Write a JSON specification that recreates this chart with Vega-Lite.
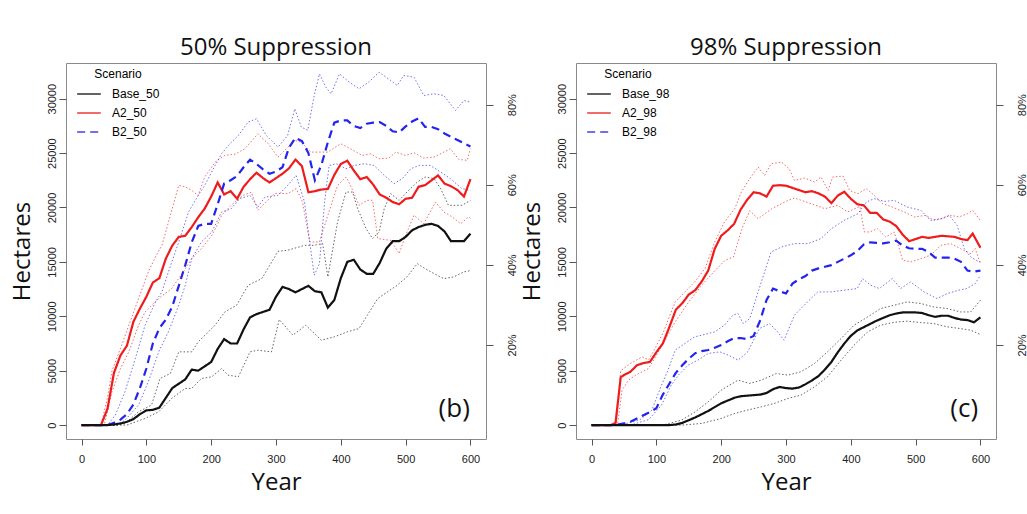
{
"$schema": "https://vega.github.io/schema/vega-lite/v6.json",
"autosize": {"type": "pad"},
"padding": {"left": 9, "top": 35, "right": 0, "bottom": 0},
"background": "white",
"bounds": "flush",
"spacing": 90,
"datasets": {
"p50": [
{"s":"A2_50","k":"m","x":0,"y":0},{"s":"A2_50","k":"m","x":10,"y":0},{"s":"A2_50","k":"m","x":20,"y":0},{"s":"A2_50","k":"m","x":30,"y":0},{"s":"A2_50","k":"m","x":40,"y":1500},{"s":"A2_50","k":"m","x":50,"y":4800},{"s":"A2_50","k":"m","x":60,"y":6400},{"s":"A2_50","k":"m","x":70,"y":7300},{"s":"A2_50","k":"m","x":80,"y":9500},{"s":"A2_50","k":"m","x":90,"y":10700},{"s":"A2_50","k":"m","x":100,"y":11800},{"s":"A2_50","k":"m","x":110,"y":13100},{"s":"A2_50","k":"m","x":120,"y":13500},{"s":"A2_50","k":"m","x":130,"y":15300},{"s":"A2_50","k":"m","x":140,"y":16500},{"s":"A2_50","k":"m","x":150,"y":17300},{"s":"A2_50","k":"m","x":160,"y":17400},{"s":"A2_50","k":"m","x":170,"y":18200},{"s":"A2_50","k":"m","x":180,"y":19100},{"s":"A2_50","k":"m","x":190,"y":19900},{"s":"A2_50","k":"m","x":200,"y":21000},{"s":"A2_50","k":"m","x":210,"y":22300},{"s":"A2_50","k":"m","x":220,"y":21200},{"s":"A2_50","k":"m","x":230,"y":21500},{"s":"A2_50","k":"m","x":240,"y":20800},{"s":"A2_50","k":"m","x":250,"y":21900},{"s":"A2_50","k":"m","x":260,"y":22600},{"s":"A2_50","k":"m","x":270,"y":23200},{"s":"A2_50","k":"m","x":280,"y":22700},{"s":"A2_50","k":"m","x":290,"y":22300},{"s":"A2_50","k":"m","x":300,"y":22700},{"s":"A2_50","k":"m","x":310,"y":23100},{"s":"A2_50","k":"m","x":320,"y":23600},{"s":"A2_50","k":"m","x":330,"y":24400},{"s":"A2_50","k":"m","x":340,"y":23800},{"s":"A2_50","k":"m","x":350,"y":21400},{"s":"A2_50","k":"m","x":360,"y":21500},{"s":"A2_50","k":"m","x":370,"y":21650},{"s":"A2_50","k":"m","x":380,"y":21700},{"s":"A2_50","k":"m","x":390,"y":23000},{"s":"A2_50","k":"m","x":400,"y":24000},{"s":"A2_50","k":"m","x":410,"y":24300},{"s":"A2_50","k":"m","x":420,"y":23400},{"s":"A2_50","k":"m","x":430,"y":22600},{"s":"A2_50","k":"m","x":440,"y":22800},{"s":"A2_50","k":"m","x":450,"y":22100},{"s":"A2_50","k":"m","x":460,"y":21200},{"s":"A2_50","k":"m","x":470,"y":20900},{"s":"A2_50","k":"m","x":480,"y":20500},{"s":"A2_50","k":"m","x":490,"y":20300},{"s":"A2_50","k":"m","x":500,"y":20800},{"s":"A2_50","k":"m","x":510,"y":20900},{"s":"A2_50","k":"m","x":520,"y":21900},{"s":"A2_50","k":"m","x":530,"y":22050},{"s":"A2_50","k":"m","x":540,"y":22500},{"s":"A2_50","k":"m","x":550,"y":22950},{"s":"A2_50","k":"m","x":560,"y":22200},{"s":"A2_50","k":"m","x":570,"y":21950},{"s":"A2_50","k":"m","x":580,"y":21600},{"s":"A2_50","k":"m","x":590,"y":21000},{"s":"A2_50","k":"m","x":600,"y":22600},
{"s":"B2_50","k":"m","x":0,"y":0},{"s":"B2_50","k":"m","x":10,"y":0},{"s":"B2_50","k":"m","x":20,"y":0},{"s":"B2_50","k":"m","x":30,"y":0},{"s":"B2_50","k":"m","x":40,"y":0},{"s":"B2_50","k":"m","x":50,"y":200},{"s":"B2_50","k":"m","x":60,"y":500},{"s":"B2_50","k":"m","x":70,"y":1000},{"s":"B2_50","k":"m","x":80,"y":1900},{"s":"B2_50","k":"m","x":90,"y":3400},{"s":"B2_50","k":"m","x":100,"y":5200},{"s":"B2_50","k":"m","x":110,"y":7500},{"s":"B2_50","k":"m","x":120,"y":8900},{"s":"B2_50","k":"m","x":130,"y":9700},{"s":"B2_50","k":"m","x":140,"y":10900},{"s":"B2_50","k":"m","x":150,"y":12800},{"s":"B2_50","k":"m","x":160,"y":14700},{"s":"B2_50","k":"m","x":170,"y":16800},{"s":"B2_50","k":"m","x":180,"y":18300},{"s":"B2_50","k":"m","x":190,"y":18500},{"s":"B2_50","k":"m","x":200,"y":18500},{"s":"B2_50","k":"m","x":210,"y":20300},{"s":"B2_50","k":"m","x":220,"y":22200},{"s":"B2_50","k":"m","x":230,"y":22500},{"s":"B2_50","k":"m","x":240,"y":22900},{"s":"B2_50","k":"m","x":250,"y":23700},{"s":"B2_50","k":"m","x":260,"y":24400},{"s":"B2_50","k":"m","x":270,"y":24000},{"s":"B2_50","k":"m","x":280,"y":23500},{"s":"B2_50","k":"m","x":290,"y":23100},{"s":"B2_50","k":"m","x":300,"y":23300},{"s":"B2_50","k":"m","x":310,"y":23700},{"s":"B2_50","k":"m","x":320,"y":25500},{"s":"B2_50","k":"m","x":330,"y":26400},{"s":"B2_50","k":"m","x":340,"y":26100},{"s":"B2_50","k":"m","x":350,"y":25000},{"s":"B2_50","k":"m","x":360,"y":22500},{"s":"B2_50","k":"m","x":370,"y":23900},{"s":"B2_50","k":"m","x":380,"y":26000},{"s":"B2_50","k":"m","x":390,"y":27800},{"s":"B2_50","k":"m","x":400,"y":28000},{"s":"B2_50","k":"m","x":410,"y":28000},{"s":"B2_50","k":"m","x":420,"y":27500},{"s":"B2_50","k":"m","x":430,"y":27300},{"s":"B2_50","k":"m","x":440,"y":27700},{"s":"B2_50","k":"m","x":450,"y":27800},{"s":"B2_50","k":"m","x":460,"y":27850},{"s":"B2_50","k":"m","x":470,"y":27500},{"s":"B2_50","k":"m","x":480,"y":27000},{"s":"B2_50","k":"m","x":490,"y":26900},{"s":"B2_50","k":"m","x":500,"y":27450},{"s":"B2_50","k":"m","x":510,"y":27900},{"s":"B2_50","k":"m","x":520,"y":28200},{"s":"B2_50","k":"m","x":530,"y":27400},{"s":"B2_50","k":"m","x":540,"y":27400},{"s":"B2_50","k":"m","x":550,"y":27200},{"s":"B2_50","k":"m","x":560,"y":26800},{"s":"B2_50","k":"m","x":570,"y":26500},{"s":"B2_50","k":"m","x":580,"y":26200},{"s":"B2_50","k":"m","x":590,"y":25900},{"s":"B2_50","k":"m","x":600,"y":25600},
{"s":"Base_50","k":"m","x":0,"y":0},{"s":"Base_50","k":"m","x":10,"y":0},{"s":"Base_50","k":"m","x":20,"y":0},{"s":"Base_50","k":"m","x":30,"y":0},{"s":"Base_50","k":"m","x":40,"y":0},{"s":"Base_50","k":"m","x":50,"y":50},{"s":"Base_50","k":"m","x":60,"y":150},{"s":"Base_50","k":"m","x":70,"y":300},{"s":"Base_50","k":"m","x":80,"y":550},{"s":"Base_50","k":"m","x":90,"y":1000},{"s":"Base_50","k":"m","x":100,"y":1350},{"s":"Base_50","k":"m","x":110,"y":1400},{"s":"Base_50","k":"m","x":120,"y":1600},{"s":"Base_50","k":"m","x":130,"y":2500},{"s":"Base_50","k":"m","x":140,"y":3400},{"s":"Base_50","k":"m","x":150,"y":3800},{"s":"Base_50","k":"m","x":160,"y":4200},{"s":"Base_50","k":"m","x":170,"y":5100},{"s":"Base_50","k":"m","x":180,"y":5000},{"s":"Base_50","k":"m","x":190,"y":5400},{"s":"Base_50","k":"m","x":200,"y":5800},{"s":"Base_50","k":"m","x":210,"y":7000},{"s":"Base_50","k":"m","x":220,"y":7900},{"s":"Base_50","k":"m","x":230,"y":7500},{"s":"Base_50","k":"m","x":240,"y":7500},{"s":"Base_50","k":"m","x":250,"y":8800},{"s":"Base_50","k":"m","x":260,"y":9900},{"s":"Base_50","k":"m","x":270,"y":10200},{"s":"Base_50","k":"m","x":280,"y":10400},{"s":"Base_50","k":"m","x":290,"y":10600},{"s":"Base_50","k":"m","x":300,"y":11800},{"s":"Base_50","k":"m","x":310,"y":12700},{"s":"Base_50","k":"m","x":320,"y":12500},{"s":"Base_50","k":"m","x":330,"y":12200},{"s":"Base_50","k":"m","x":340,"y":12500},{"s":"Base_50","k":"m","x":350,"y":12800},{"s":"Base_50","k":"m","x":360,"y":12300},{"s":"Base_50","k":"m","x":370,"y":12200},{"s":"Base_50","k":"m","x":380,"y":10800},{"s":"Base_50","k":"m","x":390,"y":11500},{"s":"Base_50","k":"m","x":400,"y":13500},{"s":"Base_50","k":"m","x":410,"y":15000},{"s":"Base_50","k":"m","x":420,"y":15200},{"s":"Base_50","k":"m","x":430,"y":14300},{"s":"Base_50","k":"m","x":440,"y":13900},{"s":"Base_50","k":"m","x":450,"y":13900},{"s":"Base_50","k":"m","x":460,"y":14900},{"s":"Base_50","k":"m","x":470,"y":16200},{"s":"Base_50","k":"m","x":480,"y":16900},{"s":"Base_50","k":"m","x":490,"y":16900},{"s":"Base_50","k":"m","x":500,"y":17300},{"s":"Base_50","k":"m","x":510,"y":17900},{"s":"Base_50","k":"m","x":520,"y":18200},{"s":"Base_50","k":"m","x":530,"y":18400},{"s":"Base_50","k":"m","x":540,"y":18500},{"s":"Base_50","k":"m","x":550,"y":18300},{"s":"Base_50","k":"m","x":560,"y":17800},{"s":"Base_50","k":"m","x":570,"y":16900},{"s":"Base_50","k":"m","x":580,"y":16900},{"s":"Base_50","k":"m","x":590,"y":16900},{"s":"Base_50","k":"m","x":600,"y":17600},
{"s":"A2_50","k":"hi","x":0,"y":0},{"s":"A2_50","k":"hi","x":30,"y":0},{"s":"A2_50","k":"hi","x":40,"y":2500},{"s":"A2_50","k":"hi","x":47,"y":5000},{"s":"A2_50","k":"hi","x":60,"y":7040},{"s":"A2_50","k":"hi","x":73,"y":9180},{"s":"A2_50","k":"hi","x":88,"y":11630},{"s":"A2_50","k":"hi","x":103,"y":14080},{"s":"A2_50","k":"hi","x":114,"y":15450},{"s":"A2_50","k":"hi","x":124,"y":16520},{"s":"A2_50","k":"hi","x":137,"y":19280},{"s":"A2_50","k":"hi","x":150,"y":22030},{"s":"A2_50","k":"hi","x":160,"y":21900},{"s":"A2_50","k":"hi","x":170,"y":21570},{"s":"A2_50","k":"hi","x":180,"y":21100},{"s":"A2_50","k":"hi","x":190,"y":22800},{"s":"A2_50","k":"hi","x":206,"y":24170},{"s":"A2_50","k":"hi","x":221,"y":24790},{"s":"A2_50","k":"hi","x":237,"y":24900},{"s":"A2_50","k":"hi","x":252,"y":25400},{"s":"A2_50","k":"hi","x":272,"y":26780},{"s":"A2_50","k":"hi","x":288,"y":25860},{"s":"A2_50","k":"hi","x":303,"y":24630},{"s":"A2_50","k":"hi","x":316,"y":25400},{"s":"A2_50","k":"hi","x":329,"y":26160},{"s":"A2_50","k":"hi","x":339,"y":26000},{"s":"A2_50","k":"hi","x":354,"y":25090},{"s":"A2_50","k":"hi","x":367,"y":25090},{"s":"A2_50","k":"hi","x":380,"y":25090},{"s":"A2_50","k":"hi","x":400,"y":25860},{"s":"A2_50","k":"hi","x":415,"y":25400},{"s":"A2_50","k":"hi","x":433,"y":24780},{"s":"A2_50","k":"hi","x":446,"y":24930},{"s":"A2_50","k":"hi","x":459,"y":24480},{"s":"A2_50","k":"hi","x":474,"y":24540},{"s":"A2_50","k":"hi","x":485,"y":25090},{"s":"A2_50","k":"hi","x":500,"y":24780},{"s":"A2_50","k":"hi","x":513,"y":25030},{"s":"A2_50","k":"hi","x":528,"y":24540},{"s":"A2_50","k":"hi","x":544,"y":24630},{"s":"A2_50","k":"hi","x":559,"y":25090},{"s":"A2_50","k":"hi","x":569,"y":25400},{"s":"A2_50","k":"hi","x":582,"y":24420},{"s":"A2_50","k":"hi","x":595,"y":24330},{"s":"A2_50","k":"hi","x":600,"y":25400},
{"s":"A2_50","k":"lo","x":0,"y":0},{"s":"A2_50","k":"lo","x":35,"y":0},{"s":"A2_50","k":"lo","x":47,"y":3060},{"s":"A2_50","k":"lo","x":60,"y":5200},{"s":"A2_50","k":"lo","x":73,"y":6730},{"s":"A2_50","k":"lo","x":88,"y":9180},{"s":"A2_50","k":"lo","x":98,"y":10400},{"s":"A2_50","k":"lo","x":119,"y":11630},{"s":"A2_50","k":"lo","x":139,"y":12550},{"s":"A2_50","k":"lo","x":157,"y":14080},{"s":"A2_50","k":"lo","x":170,"y":15300},{"s":"A2_50","k":"lo","x":185,"y":16220},{"s":"A2_50","k":"lo","x":201,"y":17440},{"s":"A2_50","k":"lo","x":208,"y":18210},{"s":"A2_50","k":"lo","x":216,"y":19280},{"s":"A2_50","k":"lo","x":231,"y":20200},{"s":"A2_50","k":"lo","x":249,"y":21110},{"s":"A2_50","k":"lo","x":262,"y":21400},{"s":"A2_50","k":"lo","x":272,"y":19740},{"s":"A2_50","k":"lo","x":298,"y":21300},{"s":"A2_50","k":"lo","x":318,"y":21270},{"s":"A2_50","k":"lo","x":331,"y":21730},{"s":"A2_50","k":"lo","x":341,"y":20500},{"s":"A2_50","k":"lo","x":352,"y":16830},{"s":"A2_50","k":"lo","x":367,"y":16830},{"s":"A2_50","k":"lo","x":380,"y":19280},{"s":"A2_50","k":"lo","x":395,"y":22030},{"s":"A2_50","k":"lo","x":408,"y":22800},{"s":"A2_50","k":"lo","x":415,"y":22030},{"s":"A2_50","k":"lo","x":428,"y":20200},{"s":"A2_50","k":"lo","x":441,"y":20660},{"s":"A2_50","k":"lo","x":449,"y":20660},{"s":"A2_50","k":"lo","x":457,"y":17140},{"s":"A2_50","k":"lo","x":477,"y":16980},{"s":"A2_50","k":"lo","x":490,"y":15760},{"s":"A2_50","k":"lo","x":500,"y":17440},{"s":"A2_50","k":"lo","x":513,"y":19280},{"s":"A2_50","k":"lo","x":528,"y":18510},{"s":"A2_50","k":"lo","x":546,"y":20500},{"s":"A2_50","k":"lo","x":559,"y":19580},{"s":"A2_50","k":"lo","x":572,"y":19130},{"s":"A2_50","k":"lo","x":585,"y":18510},{"s":"A2_50","k":"lo","x":597,"y":19130},{"s":"A2_50","k":"lo","x":600,"y":19000},
{"s":"B2_50","k":"hi","x":0,"y":0},{"s":"B2_50","k":"hi","x":40,"y":0},{"s":"B2_50","k":"hi","x":52,"y":900},{"s":"B2_50","k":"hi","x":67,"y":3060},{"s":"B2_50","k":"hi","x":83,"y":6120},{"s":"B2_50","k":"hi","x":98,"y":9180},{"s":"B2_50","k":"hi","x":114,"y":11320},{"s":"B2_50","k":"hi","x":124,"y":12240},{"s":"B2_50","k":"hi","x":134,"y":14080},{"s":"B2_50","k":"hi","x":150,"y":16830},{"s":"B2_50","k":"hi","x":165,"y":19580},{"s":"B2_50","k":"hi","x":180,"y":21110},{"s":"B2_50","k":"hi","x":190,"y":22030},{"s":"B2_50","k":"hi","x":206,"y":23870},{"s":"B2_50","k":"hi","x":216,"y":24940},{"s":"B2_50","k":"hi","x":229,"y":25860},{"s":"B2_50","k":"hi","x":242,"y":26620},{"s":"B2_50","k":"hi","x":257,"y":27850},{"s":"B2_50","k":"hi","x":270,"y":28150},{"s":"B2_50","k":"hi","x":285,"y":26620},{"s":"B2_50","k":"hi","x":303,"y":25550},{"s":"B2_50","k":"hi","x":318,"y":26620},{"s":"B2_50","k":"hi","x":329,"y":29070},{"s":"B2_50","k":"hi","x":339,"y":27390},{"s":"B2_50","k":"hi","x":349,"y":27100},{"s":"B2_50","k":"hi","x":359,"y":30300},{"s":"B2_50","k":"hi","x":367,"y":32280},{"s":"B2_50","k":"hi","x":377,"y":31060},{"s":"B2_50","k":"hi","x":385,"y":30450},{"s":"B2_50","k":"hi","x":398,"y":32280},{"s":"B2_50","k":"hi","x":413,"y":31520},{"s":"B2_50","k":"hi","x":428,"y":30910},{"s":"B2_50","k":"hi","x":443,"y":31520},{"s":"B2_50","k":"hi","x":459,"y":32430},{"s":"B2_50","k":"hi","x":477,"y":31670},{"s":"B2_50","k":"hi","x":487,"y":31210},{"s":"B2_50","k":"hi","x":497,"y":32130},{"s":"B2_50","k":"hi","x":513,"y":31970},{"s":"B2_50","k":"hi","x":528,"y":30290},{"s":"B2_50","k":"hi","x":544,"y":30450},{"s":"B2_50","k":"hi","x":559,"y":30290},{"s":"B2_50","k":"hi","x":577,"y":28920},{"s":"B2_50","k":"hi","x":590,"y":29830},{"s":"B2_50","k":"hi","x":600,"y":29680},
{"s":"B2_50","k":"lo","x":0,"y":0},{"s":"B2_50","k":"lo","x":55,"y":0},{"s":"B2_50","k":"lo","x":67,"y":450},{"s":"B2_50","k":"lo","x":88,"y":1840},{"s":"B2_50","k":"lo","x":103,"y":3980},{"s":"B2_50","k":"lo","x":119,"y":6730},{"s":"B2_50","k":"lo","x":134,"y":8570},{"s":"B2_50","k":"lo","x":150,"y":11020},{"s":"B2_50","k":"lo","x":160,"y":12850},{"s":"B2_50","k":"lo","x":170,"y":15300},{"s":"B2_50","k":"lo","x":185,"y":16830},{"s":"B2_50","k":"lo","x":201,"y":17750},{"s":"B2_50","k":"lo","x":216,"y":19580},{"s":"B2_50","k":"lo","x":231,"y":19890},{"s":"B2_50","k":"lo","x":244,"y":20810},{"s":"B2_50","k":"lo","x":260,"y":21110},{"s":"B2_50","k":"lo","x":272,"y":20040},{"s":"B2_50","k":"lo","x":283,"y":20960},{"s":"B2_50","k":"lo","x":303,"y":21110},{"s":"B2_50","k":"lo","x":318,"y":22030},{"s":"B2_50","k":"lo","x":331,"y":22950},{"s":"B2_50","k":"lo","x":344,"y":20500},{"s":"B2_50","k":"lo","x":352,"y":16830},{"s":"B2_50","k":"lo","x":359,"y":13770},{"s":"B2_50","k":"lo","x":367,"y":14840},{"s":"B2_50","k":"lo","x":375,"y":20500},{"s":"B2_50","k":"lo","x":382,"y":23870},{"s":"B2_50","k":"lo","x":393,"y":24020},{"s":"B2_50","k":"lo","x":408,"y":23560},{"s":"B2_50","k":"lo","x":421,"y":23870},{"s":"B2_50","k":"lo","x":436,"y":24020},{"s":"B2_50","k":"lo","x":451,"y":23870},{"s":"B2_50","k":"lo","x":467,"y":22950},{"s":"B2_50","k":"lo","x":482,"y":22190},{"s":"B2_50","k":"lo","x":495,"y":22650},{"s":"B2_50","k":"lo","x":508,"y":23560},{"s":"B2_50","k":"lo","x":521,"y":23870},{"s":"B2_50","k":"lo","x":538,"y":23870},{"s":"B2_50","k":"lo","x":554,"y":23260},{"s":"B2_50","k":"lo","x":569,"y":22650},{"s":"B2_50","k":"lo","x":587,"y":21730},{"s":"B2_50","k":"lo","x":600,"y":21570},
{"s":"Base_50","k":"hi","x":0,"y":0},{"s":"Base_50","k":"hi","x":55,"y":0},{"s":"Base_50","k":"hi","x":67,"y":150},{"s":"Base_50","k":"hi","x":88,"y":1220},{"s":"Base_50","k":"hi","x":108,"y":1840},{"s":"Base_50","k":"hi","x":121,"y":4280},{"s":"Base_50","k":"hi","x":137,"y":4740},{"s":"Base_50","k":"hi","x":150,"y":6730},{"s":"Base_50","k":"hi","x":170,"y":6730},{"s":"Base_50","k":"hi","x":180,"y":7650},{"s":"Base_50","k":"hi","x":206,"y":9180},{"s":"Base_50","k":"hi","x":221,"y":10400},{"s":"Base_50","k":"hi","x":239,"y":11000},{"s":"Base_50","k":"hi","x":257,"y":12850},{"s":"Base_50","k":"hi","x":278,"y":13460},{"s":"Base_50","k":"hi","x":298,"y":15450},{"s":"Base_50","k":"hi","x":303,"y":15970},{"s":"Base_50","k":"hi","x":318,"y":16070},{"s":"Base_50","k":"hi","x":344,"y":16520},{"s":"Base_50","k":"hi","x":359,"y":16520},{"s":"Base_50","k":"hi","x":372,"y":16680},{"s":"Base_50","k":"hi","x":380,"y":13620},{"s":"Base_50","k":"hi","x":395,"y":18670},{"s":"Base_50","k":"hi","x":408,"y":21420},{"s":"Base_50","k":"hi","x":418,"y":21420},{"s":"Base_50","k":"hi","x":426,"y":19890},{"s":"Base_50","k":"hi","x":439,"y":18050},{"s":"Base_50","k":"hi","x":449,"y":17140},{"s":"Base_50","k":"hi","x":459,"y":17750},{"s":"Base_50","k":"hi","x":467,"y":19890},{"s":"Base_50","k":"hi","x":477,"y":21270},{"s":"Base_50","k":"hi","x":490,"y":20660},{"s":"Base_50","k":"hi","x":502,"y":21420},{"s":"Base_50","k":"hi","x":518,"y":22340},{"s":"Base_50","k":"hi","x":530,"y":22800},{"s":"Base_50","k":"hi","x":544,"y":22650},{"s":"Base_50","k":"hi","x":554,"y":21730},{"s":"Base_50","k":"hi","x":566,"y":20200},{"s":"Base_50","k":"hi","x":587,"y":20200},{"s":"Base_50","k":"hi","x":600,"y":20650},
{"s":"Base_50","k":"lo","x":0,"y":0},{"s":"Base_50","k":"lo","x":70,"y":0},{"s":"Base_50","k":"lo","x":98,"y":610},{"s":"Base_50","k":"lo","x":119,"y":1220},{"s":"Base_50","k":"lo","x":139,"y":2450},{"s":"Base_50","k":"lo","x":160,"y":3370},{"s":"Base_50","k":"lo","x":170,"y":3370},{"s":"Base_50","k":"lo","x":185,"y":4280},{"s":"Base_50","k":"lo","x":201,"y":4440},{"s":"Base_50","k":"lo","x":216,"y":5200},{"s":"Base_50","k":"lo","x":226,"y":4590},{"s":"Base_50","k":"lo","x":242,"y":4440},{"s":"Base_50","k":"lo","x":260,"y":6730},{"s":"Base_50","k":"lo","x":272,"y":6880},{"s":"Base_50","k":"lo","x":293,"y":6730},{"s":"Base_50","k":"lo","x":305,"y":9700},{"s":"Base_50","k":"lo","x":326,"y":8260},{"s":"Base_50","k":"lo","x":346,"y":9180},{"s":"Base_50","k":"lo","x":370,"y":7800},{"s":"Base_50","k":"lo","x":390,"y":8110},{"s":"Base_50","k":"lo","x":410,"y":8570},{"s":"Base_50","k":"lo","x":428,"y":8870},{"s":"Base_50","k":"lo","x":441,"y":10100},{"s":"Base_50","k":"lo","x":457,"y":11630},{"s":"Base_50","k":"lo","x":472,"y":12240},{"s":"Base_50","k":"lo","x":487,"y":12850},{"s":"Base_50","k":"lo","x":502,"y":13620},{"s":"Base_50","k":"lo","x":518,"y":14840},{"s":"Base_50","k":"lo","x":530,"y":14380},{"s":"Base_50","k":"lo","x":544,"y":13920},{"s":"Base_50","k":"lo","x":559,"y":13460},{"s":"Base_50","k":"lo","x":574,"y":13620},{"s":"Base_50","k":"lo","x":590,"y":14080},{"s":"Base_50","k":"lo","x":600,"y":14200}
],
"p98": [
{"s":"A2_98","k":"m","x":0,"y":0},{"s":"A2_98","k":"m","x":10,"y":0},{"s":"A2_98","k":"m","x":20,"y":0},{"s":"A2_98","k":"m","x":30,"y":0},{"s":"A2_98","k":"m","x":37,"y":200},{"s":"A2_98","k":"m","x":45,"y":4400},{"s":"A2_98","k":"m","x":50,"y":4600},{"s":"A2_98","k":"m","x":60,"y":4900},{"s":"A2_98","k":"m","x":70,"y":5500},{"s":"A2_98","k":"m","x":80,"y":5700},{"s":"A2_98","k":"m","x":90,"y":5800},{"s":"A2_98","k":"m","x":100,"y":6700},{"s":"A2_98","k":"m","x":110,"y":7500},{"s":"A2_98","k":"m","x":120,"y":9000},{"s":"A2_98","k":"m","x":130,"y":10600},{"s":"A2_98","k":"m","x":140,"y":11200},{"s":"A2_98","k":"m","x":150,"y":12000},{"s":"A2_98","k":"m","x":160,"y":12400},{"s":"A2_98","k":"m","x":170,"y":13200},{"s":"A2_98","k":"m","x":180,"y":14200},{"s":"A2_98","k":"m","x":190,"y":16200},{"s":"A2_98","k":"m","x":200,"y":17400},{"s":"A2_98","k":"m","x":210,"y":17900},{"s":"A2_98","k":"m","x":220,"y":18500},{"s":"A2_98","k":"m","x":230,"y":19800},{"s":"A2_98","k":"m","x":240,"y":20700},{"s":"A2_98","k":"m","x":250,"y":21400},{"s":"A2_98","k":"m","x":260,"y":21300},{"s":"A2_98","k":"m","x":270,"y":21000},{"s":"A2_98","k":"m","x":280,"y":22000},{"s":"A2_98","k":"m","x":290,"y":22050},{"s":"A2_98","k":"m","x":300,"y":22000},{"s":"A2_98","k":"m","x":310,"y":21800},{"s":"A2_98","k":"m","x":320,"y":21600},{"s":"A2_98","k":"m","x":330,"y":21400},{"s":"A2_98","k":"m","x":340,"y":21500},{"s":"A2_98","k":"m","x":350,"y":21300},{"s":"A2_98","k":"m","x":360,"y":21000},{"s":"A2_98","k":"m","x":370,"y":20400},{"s":"A2_98","k":"m","x":380,"y":21100},{"s":"A2_98","k":"m","x":390,"y":21450},{"s":"A2_98","k":"m","x":400,"y":20800},{"s":"A2_98","k":"m","x":410,"y":20300},{"s":"A2_98","k":"m","x":420,"y":20200},{"s":"A2_98","k":"m","x":430,"y":19500},{"s":"A2_98","k":"m","x":440,"y":19500},{"s":"A2_98","k":"m","x":450,"y":18900},{"s":"A2_98","k":"m","x":460,"y":18700},{"s":"A2_98","k":"m","x":470,"y":18300},{"s":"A2_98","k":"m","x":480,"y":17500},{"s":"A2_98","k":"m","x":490,"y":16900},{"s":"A2_98","k":"m","x":500,"y":17100},{"s":"A2_98","k":"m","x":510,"y":17300},{"s":"A2_98","k":"m","x":520,"y":17200},{"s":"A2_98","k":"m","x":530,"y":17300},{"s":"A2_98","k":"m","x":540,"y":17400},{"s":"A2_98","k":"m","x":550,"y":17350},{"s":"A2_98","k":"m","x":560,"y":17300},{"s":"A2_98","k":"m","x":570,"y":17100},{"s":"A2_98","k":"m","x":580,"y":17000},{"s":"A2_98","k":"m","x":588,"y":17600},{"s":"A2_98","k":"m","x":600,"y":16300},
{"s":"B2_98","k":"m","x":0,"y":0},{"s":"B2_98","k":"m","x":10,"y":0},{"s":"B2_98","k":"m","x":20,"y":0},{"s":"B2_98","k":"m","x":30,"y":0},{"s":"B2_98","k":"m","x":40,"y":50},{"s":"B2_98","k":"m","x":50,"y":150},{"s":"B2_98","k":"m","x":60,"y":300},{"s":"B2_98","k":"m","x":70,"y":600},{"s":"B2_98","k":"m","x":80,"y":900},{"s":"B2_98","k":"m","x":90,"y":1200},{"s":"B2_98","k":"m","x":100,"y":1550},{"s":"B2_98","k":"m","x":110,"y":2800},{"s":"B2_98","k":"m","x":120,"y":3800},{"s":"B2_98","k":"m","x":130,"y":4800},{"s":"B2_98","k":"m","x":140,"y":5500},{"s":"B2_98","k":"m","x":150,"y":6100},{"s":"B2_98","k":"m","x":160,"y":6600},{"s":"B2_98","k":"m","x":170,"y":6800},{"s":"B2_98","k":"m","x":180,"y":6900},{"s":"B2_98","k":"m","x":190,"y":7100},{"s":"B2_98","k":"m","x":200,"y":7350},{"s":"B2_98","k":"m","x":210,"y":7700},{"s":"B2_98","k":"m","x":220,"y":8000},{"s":"B2_98","k":"m","x":230,"y":8000},{"s":"B2_98","k":"m","x":240,"y":7900},{"s":"B2_98","k":"m","x":250,"y":8200},{"s":"B2_98","k":"m","x":260,"y":9600},{"s":"B2_98","k":"m","x":270,"y":11500},{"s":"B2_98","k":"m","x":280,"y":12550},{"s":"B2_98","k":"m","x":290,"y":12300},{"s":"B2_98","k":"m","x":300,"y":12100},{"s":"B2_98","k":"m","x":310,"y":13000},{"s":"B2_98","k":"m","x":320,"y":13400},{"s":"B2_98","k":"m","x":330,"y":13700},{"s":"B2_98","k":"m","x":340,"y":14200},{"s":"B2_98","k":"m","x":350,"y":14400},{"s":"B2_98","k":"m","x":360,"y":14550},{"s":"B2_98","k":"m","x":370,"y":14700},{"s":"B2_98","k":"m","x":380,"y":15000},{"s":"B2_98","k":"m","x":390,"y":15300},{"s":"B2_98","k":"m","x":400,"y":15600},{"s":"B2_98","k":"m","x":410,"y":16000},{"s":"B2_98","k":"m","x":420,"y":16600},{"s":"B2_98","k":"m","x":430,"y":16800},{"s":"B2_98","k":"m","x":440,"y":16750},{"s":"B2_98","k":"m","x":450,"y":16700},{"s":"B2_98","k":"m","x":460,"y":16800},{"s":"B2_98","k":"m","x":470,"y":16950},{"s":"B2_98","k":"m","x":480,"y":16500},{"s":"B2_98","k":"m","x":490,"y":16250},{"s":"B2_98","k":"m","x":500,"y":16200},{"s":"B2_98","k":"m","x":510,"y":16200},{"s":"B2_98","k":"m","x":520,"y":15900},{"s":"B2_98","k":"m","x":530,"y":15400},{"s":"B2_98","k":"m","x":540,"y":15400},{"s":"B2_98","k":"m","x":550,"y":15400},{"s":"B2_98","k":"m","x":560,"y":15300},{"s":"B2_98","k":"m","x":570,"y":15000},{"s":"B2_98","k":"m","x":580,"y":14200},{"s":"B2_98","k":"m","x":590,"y":14100},{"s":"B2_98","k":"m","x":600,"y":14200},
{"s":"Base_98","k":"m","x":0,"y":0},{"s":"Base_98","k":"m","x":40,"y":0},{"s":"Base_98","k":"m","x":80,"y":0},{"s":"Base_98","k":"m","x":120,"y":0},{"s":"Base_98","k":"m","x":130,"y":50},{"s":"Base_98","k":"m","x":140,"y":200},{"s":"Base_98","k":"m","x":150,"y":450},{"s":"Base_98","k":"m","x":160,"y":700},{"s":"Base_98","k":"m","x":170,"y":1000},{"s":"Base_98","k":"m","x":180,"y":1300},{"s":"Base_98","k":"m","x":190,"y":1650},{"s":"Base_98","k":"m","x":200,"y":2000},{"s":"Base_98","k":"m","x":210,"y":2250},{"s":"Base_98","k":"m","x":220,"y":2500},{"s":"Base_98","k":"m","x":230,"y":2650},{"s":"Base_98","k":"m","x":240,"y":2700},{"s":"Base_98","k":"m","x":250,"y":2750},{"s":"Base_98","k":"m","x":260,"y":2800},{"s":"Base_98","k":"m","x":270,"y":2950},{"s":"Base_98","k":"m","x":280,"y":3300},{"s":"Base_98","k":"m","x":290,"y":3500},{"s":"Base_98","k":"m","x":300,"y":3400},{"s":"Base_98","k":"m","x":310,"y":3350},{"s":"Base_98","k":"m","x":320,"y":3450},{"s":"Base_98","k":"m","x":330,"y":3750},{"s":"Base_98","k":"m","x":340,"y":4100},{"s":"Base_98","k":"m","x":350,"y":4500},{"s":"Base_98","k":"m","x":360,"y":5100},{"s":"Base_98","k":"m","x":370,"y":5800},{"s":"Base_98","k":"m","x":380,"y":6700},{"s":"Base_98","k":"m","x":390,"y":7500},{"s":"Base_98","k":"m","x":400,"y":8200},{"s":"Base_98","k":"m","x":410,"y":8700},{"s":"Base_98","k":"m","x":420,"y":9000},{"s":"Base_98","k":"m","x":430,"y":9300},{"s":"Base_98","k":"m","x":440,"y":9600},{"s":"Base_98","k":"m","x":450,"y":9850},{"s":"Base_98","k":"m","x":460,"y":10100},{"s":"Base_98","k":"m","x":470,"y":10250},{"s":"Base_98","k":"m","x":480,"y":10350},{"s":"Base_98","k":"m","x":490,"y":10350},{"s":"Base_98","k":"m","x":500,"y":10350},{"s":"Base_98","k":"m","x":510,"y":10300},{"s":"Base_98","k":"m","x":520,"y":10100},{"s":"Base_98","k":"m","x":530,"y":9950},{"s":"Base_98","k":"m","x":540,"y":10050},{"s":"Base_98","k":"m","x":550,"y":10050},{"s":"Base_98","k":"m","x":560,"y":9850},{"s":"Base_98","k":"m","x":570,"y":9700},{"s":"Base_98","k":"m","x":580,"y":9650},{"s":"Base_98","k":"m","x":590,"y":9450},{"s":"Base_98","k":"m","x":600,"y":9900},
{"s":"A2_98","k":"hi","x":0,"y":0},{"s":"A2_98","k":"hi","x":38,"y":0},{"s":"A2_98","k":"hi","x":45,"y":5000},{"s":"A2_98","k":"hi","x":60,"y":5660},{"s":"A2_98","k":"hi","x":78,"y":6270},{"s":"A2_98","k":"hi","x":88,"y":6000},{"s":"A2_98","k":"hi","x":98,"y":7040},{"s":"A2_98","k":"hi","x":111,"y":8570},{"s":"A2_98","k":"hi","x":129,"y":11320},{"s":"A2_98","k":"hi","x":144,"y":12240},{"s":"A2_98","k":"hi","x":159,"y":13160},{"s":"A2_98","k":"hi","x":175,"y":14380},{"s":"A2_98","k":"hi","x":190,"y":16830},{"s":"A2_98","k":"hi","x":205,"y":18670},{"s":"A2_98","k":"hi","x":221,"y":19890},{"s":"A2_98","k":"hi","x":231,"y":21420},{"s":"A2_98","k":"hi","x":244,"y":22640},{"s":"A2_98","k":"hi","x":257,"y":23720},{"s":"A2_98","k":"hi","x":267,"y":22950},{"s":"A2_98","k":"hi","x":277,"y":24020},{"s":"A2_98","k":"hi","x":293,"y":24170},{"s":"A2_98","k":"hi","x":305,"y":23560},{"s":"A2_98","k":"hi","x":313,"y":22490},{"s":"A2_98","k":"hi","x":329,"y":22700},{"s":"A2_98","k":"hi","x":344,"y":22340},{"s":"A2_98","k":"hi","x":354,"y":22800},{"s":"A2_98","k":"hi","x":365,"y":21570},{"s":"A2_98","k":"hi","x":372,"y":22800},{"s":"A2_98","k":"hi","x":388,"y":22890},{"s":"A2_98","k":"hi","x":398,"y":21570},{"s":"A2_98","k":"hi","x":411,"y":21270},{"s":"A2_98","k":"hi","x":424,"y":21730},{"s":"A2_98","k":"hi","x":436,"y":21110},{"s":"A2_98","k":"hi","x":449,"y":20350},{"s":"A2_98","k":"hi","x":464,"y":20040},{"s":"A2_98","k":"hi","x":482,"y":19590},{"s":"A2_98","k":"hi","x":498,"y":19130},{"s":"A2_98","k":"hi","x":516,"y":19280},{"s":"A2_98","k":"hi","x":528,"y":18820},{"s":"A2_98","k":"hi","x":541,"y":18970},{"s":"A2_98","k":"hi","x":554,"y":19280},{"s":"A2_98","k":"hi","x":567,"y":19130},{"s":"A2_98","k":"hi","x":580,"y":19430},{"s":"A2_98","k":"hi","x":588,"y":19740},{"s":"A2_98","k":"hi","x":600,"y":18800},
{"s":"A2_98","k":"lo","x":0,"y":0},{"s":"A2_98","k":"lo","x":40,"y":0},{"s":"A2_98","k":"lo","x":47,"y":3210},{"s":"A2_98","k":"lo","x":57,"y":4130},{"s":"A2_98","k":"lo","x":68,"y":4590},{"s":"A2_98","k":"lo","x":88,"y":5200},{"s":"A2_98","k":"lo","x":109,"y":7340},{"s":"A2_98","k":"lo","x":129,"y":9490},{"s":"A2_98","k":"lo","x":150,"y":11320},{"s":"A2_98","k":"lo","x":170,"y":12860},{"s":"A2_98","k":"lo","x":191,"y":14230},{"s":"A2_98","k":"lo","x":206,"y":15150},{"s":"A2_98","k":"lo","x":219,"y":15450},{"s":"A2_98","k":"lo","x":232,"y":18050},{"s":"A2_98","k":"lo","x":244,"y":19700},{"s":"A2_98","k":"lo","x":257,"y":18970},{"s":"A2_98","k":"lo","x":278,"y":19890},{"s":"A2_98","k":"lo","x":303,"y":20650},{"s":"A2_98","k":"lo","x":313,"y":20870},{"s":"A2_98","k":"lo","x":339,"y":20350},{"s":"A2_98","k":"lo","x":360,"y":19890},{"s":"A2_98","k":"lo","x":380,"y":20200},{"s":"A2_98","k":"lo","x":395,"y":19590},{"s":"A2_98","k":"lo","x":414,"y":20100},{"s":"A2_98","k":"lo","x":421,"y":17750},{"s":"A2_98","k":"lo","x":429,"y":17750},{"s":"A2_98","k":"lo","x":441,"y":18050},{"s":"A2_98","k":"lo","x":454,"y":17290},{"s":"A2_98","k":"lo","x":467,"y":17750},{"s":"A2_98","k":"lo","x":480,"y":15150},{"s":"A2_98","k":"lo","x":493,"y":15000},{"s":"A2_98","k":"lo","x":508,"y":15300},{"s":"A2_98","k":"lo","x":523,"y":15610},{"s":"A2_98","k":"lo","x":539,"y":16520},{"s":"A2_98","k":"lo","x":554,"y":16680},{"s":"A2_98","k":"lo","x":569,"y":16220},{"s":"A2_98","k":"lo","x":585,"y":15760},{"s":"A2_98","k":"lo","x":592,"y":16220},{"s":"A2_98","k":"lo","x":600,"y":14840},
{"s":"B2_98","k":"hi","x":0,"y":0},{"s":"B2_98","k":"hi","x":45,"y":0},{"s":"B2_98","k":"hi","x":75,"y":500},{"s":"B2_98","k":"hi","x":93,"y":1380},{"s":"B2_98","k":"hi","x":108,"y":3670},{"s":"B2_98","k":"hi","x":118,"y":5050},{"s":"B2_98","k":"hi","x":129,"y":6890},{"s":"B2_98","k":"hi","x":144,"y":7500},{"s":"B2_98","k":"hi","x":159,"y":8110},{"s":"B2_98","k":"hi","x":170,"y":8260},{"s":"B2_98","k":"hi","x":190,"y":8570},{"s":"B2_98","k":"hi","x":205,"y":9180},{"s":"B2_98","k":"hi","x":218,"y":10100},{"s":"B2_98","k":"hi","x":226,"y":10250},{"s":"B2_98","k":"hi","x":234,"y":9330},{"s":"B2_98","k":"hi","x":244,"y":9790},{"s":"B2_98","k":"hi","x":257,"y":12240},{"s":"B2_98","k":"hi","x":267,"y":14080},{"s":"B2_98","k":"hi","x":277,"y":15910},{"s":"B2_98","k":"hi","x":293,"y":16370},{"s":"B2_98","k":"hi","x":313,"y":16680},{"s":"B2_98","k":"hi","x":334,"y":16680},{"s":"B2_98","k":"hi","x":354,"y":17140},{"s":"B2_98","k":"hi","x":370,"y":18050},{"s":"B2_98","k":"hi","x":390,"y":18820},{"s":"B2_98","k":"hi","x":411,"y":19430},{"s":"B2_98","k":"hi","x":424,"y":20500},{"s":"B2_98","k":"hi","x":436,"y":20810},{"s":"B2_98","k":"hi","x":452,"y":20560},{"s":"B2_98","k":"hi","x":467,"y":20650},{"s":"B2_98","k":"hi","x":487,"y":20040},{"s":"B2_98","k":"hi","x":508,"y":19740},{"s":"B2_98","k":"hi","x":523,"y":18820},{"s":"B2_98","k":"hi","x":539,"y":18970},{"s":"B2_98","k":"hi","x":552,"y":19280},{"s":"B2_98","k":"hi","x":564,"y":18360},{"s":"B2_98","k":"hi","x":575,"y":16220},{"s":"B2_98","k":"hi","x":585,"y":15450},{"s":"B2_98","k":"hi","x":595,"y":15100},{"s":"B2_98","k":"hi","x":600,"y":14990},
{"s":"B2_98","k":"lo","x":0,"y":0},{"s":"B2_98","k":"lo","x":60,"y":0},{"s":"B2_98","k":"lo","x":88,"y":500},{"s":"B2_98","k":"lo","x":108,"y":1840},{"s":"B2_98","k":"lo","x":123,"y":3670},{"s":"B2_98","k":"lo","x":134,"y":4590},{"s":"B2_98","k":"lo","x":149,"y":5510},{"s":"B2_98","k":"lo","x":164,"y":5970},{"s":"B2_98","k":"lo","x":180,"y":6580},{"s":"B2_98","k":"lo","x":198,"y":6730},{"s":"B2_98","k":"lo","x":211,"y":6430},{"s":"B2_98","k":"lo","x":226,"y":5970},{"s":"B2_98","k":"lo","x":241,"y":6730},{"s":"B2_98","k":"lo","x":259,"y":8870},{"s":"B2_98","k":"lo","x":275,"y":9330},{"s":"B2_98","k":"lo","x":287,"y":8570},{"s":"B2_98","k":"lo","x":297,"y":7800},{"s":"B2_98","k":"lo","x":313,"y":10100},{"s":"B2_98","k":"lo","x":333,"y":11320},{"s":"B2_98","k":"lo","x":349,"y":12240},{"s":"B2_98","k":"lo","x":369,"y":12240},{"s":"B2_98","k":"lo","x":390,"y":12400},{"s":"B2_98","k":"lo","x":410,"y":12550},{"s":"B2_98","k":"lo","x":418,"y":13460},{"s":"B2_98","k":"lo","x":431,"y":12850},{"s":"B2_98","k":"lo","x":444,"y":12550},{"s":"B2_98","k":"lo","x":464,"y":13460},{"s":"B2_98","k":"lo","x":477,"y":12550},{"s":"B2_98","k":"lo","x":492,"y":13160},{"s":"B2_98","k":"lo","x":513,"y":12240},{"s":"B2_98","k":"lo","x":533,"y":11630},{"s":"B2_98","k":"lo","x":549,"y":12090},{"s":"B2_98","k":"lo","x":566,"y":12390},{"s":"B2_98","k":"lo","x":579,"y":12550},{"s":"B2_98","k":"lo","x":592,"y":13010},{"s":"B2_98","k":"lo","x":600,"y":13770},
{"s":"Base_98","k":"hi","x":0,"y":0},{"s":"Base_98","k":"hi","x":110,"y":0},{"s":"Base_98","k":"hi","x":139,"y":460},{"s":"Base_98","k":"hi","x":160,"y":1220},{"s":"Base_98","k":"hi","x":180,"y":2140},{"s":"Base_98","k":"hi","x":200,"y":3210},{"s":"Base_98","k":"hi","x":226,"y":4130},{"s":"Base_98","k":"hi","x":244,"y":3830},{"s":"Base_98","k":"hi","x":262,"y":4130},{"s":"Base_98","k":"hi","x":285,"y":4740},{"s":"Base_98","k":"hi","x":303,"y":4590},{"s":"Base_98","k":"hi","x":323,"y":4900},{"s":"Base_98","k":"hi","x":344,"y":5660},{"s":"Base_98","k":"hi","x":364,"y":6730},{"s":"Base_98","k":"hi","x":385,"y":7960},{"s":"Base_98","k":"hi","x":405,"y":9180},{"s":"Base_98","k":"hi","x":426,"y":9940},{"s":"Base_98","k":"hi","x":446,"y":10710},{"s":"Base_98","k":"hi","x":467,"y":11020},{"s":"Base_98","k":"hi","x":487,"y":11320},{"s":"Base_98","k":"hi","x":508,"y":11170},{"s":"Base_98","k":"hi","x":528,"y":10860},{"s":"Base_98","k":"hi","x":549,"y":10710},{"s":"Base_98","k":"hi","x":569,"y":10400},{"s":"Base_98","k":"hi","x":585,"y":10400},{"s":"Base_98","k":"hi","x":600,"y":11480},
{"s":"Base_98","k":"lo","x":0,"y":0},{"s":"Base_98","k":"lo","x":140,"y":0},{"s":"Base_98","k":"lo","x":170,"y":150},{"s":"Base_98","k":"lo","x":200,"y":610},{"s":"Base_98","k":"lo","x":221,"y":1070},{"s":"Base_98","k":"lo","x":241,"y":1380},{"s":"Base_98","k":"lo","x":262,"y":1680},{"s":"Base_98","k":"lo","x":282,"y":1990},{"s":"Base_98","k":"lo","x":303,"y":2450},{"s":"Base_98","k":"lo","x":323,"y":2750},{"s":"Base_98","k":"lo","x":344,"y":3520},{"s":"Base_98","k":"lo","x":364,"y":4440},{"s":"Base_98","k":"lo","x":385,"y":5970},{"s":"Base_98","k":"lo","x":405,"y":7340},{"s":"Base_98","k":"lo","x":426,"y":8570},{"s":"Base_98","k":"lo","x":446,"y":9180},{"s":"Base_98","k":"lo","x":467,"y":9450},{"s":"Base_98","k":"lo","x":487,"y":9550},{"s":"Base_98","k":"lo","x":508,"y":9420},{"s":"Base_98","k":"lo","x":528,"y":9330},{"s":"Base_98","k":"lo","x":549,"y":9030},{"s":"Base_98","k":"lo","x":569,"y":8870},{"s":"Base_98","k":"lo","x":585,"y":8720},{"s":"Base_98","k":"lo","x":600,"y":8320}
],
"pct": [{"p":20},{"p":40},{"p":60},{"p":80}]
},
"hconcat": [
{
 "width": 420, "height": 376,
 "title": {"text": "50% Suppression"},
 "layer": [
  {
   "data": {"name": "p50"},
   "layer": [
    {
     "transform": [{"filter": "datum.k != 'm'"}],
     "mark": {"type": "line", "strokeWidth": 1, "strokeDash": [1.5, 2], "opacity": 0.65},
     "encoding": {
      "x": {"field": "x", "type": "quantitative", "scale": {"domain": [-24, 624], "nice": false, "zero": false}, "axis": {"values": [0,100,200,300,400,500,600], "title": "Year", "tickSize": 6, "labelFontSize": 11, "labelPadding": 8, "titleFontSize": 24, "titlePadding": 6}},
      "y": {"field": "y", "type": "quantitative", "scale": {"domain": [-1280, 33280], "nice": false, "zero": false}, "axis": {"values": [0,5000,10000,15000,20000,25000,30000], "format": "d", "title": "Hectares", "labelAngle": -90, "labelAlign": "center", "labelBaseline": "bottom", "tickSize": 7, "labelPadding": 2, "labelFontSize": 11, "titleFontSize": 24, "titlePadding": 12}},
      "color": {"field": "s", "type": "nominal", "title": "Scenario", "scale": {"domain": ["Base_50","A2_50","B2_50"], "range": ["#111111","#ee1c1c","#2424ee"]}},
      "detail": {"field": "k"}
     }
    },
    {
     "transform": [{"filter": "datum.k == 'm'"}],
     "mark": {"type": "line", "strokeWidth": 2.2},
     "encoding": {
      "x": {"field": "x", "type": "quantitative"},
      "y": {"field": "y", "type": "quantitative"},
      "color": {"field": "s", "type": "nominal", "title": "Scenario"},
      "strokeDash": {"field": "s", "type": "nominal", "title": "Scenario", "scale": {"domain": ["Base_50","A2_50","B2_50"], "range": [[1,0],[1,0],[8,5]]}}
     }
    },
    {
     "data": {"values": [{"t": "(b)"}]},
     "mark": {"type": "text", "fontSize": 26, "font": "Open Sans", "color": "#111"},
     "encoding": {
      "x": {"datum": 575, "type": "quantitative"},
      "y": {"datum": 1500, "type": "quantitative"},
      "text": {"field": "t"}
     }
    }
   ]
  },
  {
   "data": {"name": "pct"},
   "mark": {"type": "rule", "opacity": 0},
   "encoding": {
    "y": {"field": "p", "type": "quantitative", "scale": {"domain": [-3.48, 90.4], "nice": false, "zero": false}, "axis": {"orient": "right", "values": [20,40,60,80], "labelExpr": "datum.value + '%'", "title": null, "labelAngle": -90, "labelAlign": "center", "labelBaseline": "top", "tickSize": 7, "labelPadding": 13, "labelFontSize": 11}}
   }
  }
 ],
 "resolve": {"scale": {"y": "independent"}}
},
{
 "width": 420, "height": 376,
 "title": {"text": "98% Suppression"},
 "layer": [
  {
   "data": {"name": "p98"},
   "layer": [
    {
     "transform": [{"filter": "datum.k != 'm'"}],
     "mark": {"type": "line", "strokeWidth": 1, "strokeDash": [1.5, 2], "opacity": 0.65},
     "encoding": {
      "x": {"field": "x", "type": "quantitative", "scale": {"domain": [-24, 624], "nice": false, "zero": false}, "axis": {"values": [0,100,200,300,400,500,600], "title": "Year", "tickSize": 6, "labelFontSize": 11, "labelPadding": 8, "titleFontSize": 24, "titlePadding": 6}},
      "y": {"field": "y", "type": "quantitative", "scale": {"domain": [-1280, 33280], "nice": false, "zero": false}, "axis": {"values": [0,5000,10000,15000,20000,25000,30000], "format": "d", "title": "Hectares", "labelAngle": -90, "labelAlign": "center", "labelBaseline": "bottom", "tickSize": 7, "labelPadding": 2, "labelFontSize": 11, "titleFontSize": 24, "titlePadding": 12}},
      "color": {"field": "s", "type": "nominal", "title": "Scenario", "scale": {"domain": ["Base_98","A2_98","B2_98"], "range": ["#111111","#ee1c1c","#2424ee"]}},
      "detail": {"field": "k"}
     }
    },
    {
     "transform": [{"filter": "datum.k == 'm'"}],
     "mark": {"type": "line", "strokeWidth": 2.2},
     "encoding": {
      "x": {"field": "x", "type": "quantitative"},
      "y": {"field": "y", "type": "quantitative"},
      "color": {"field": "s", "type": "nominal", "title": "Scenario"},
      "strokeDash": {"field": "s", "type": "nominal", "title": "Scenario", "scale": {"domain": ["Base_98","A2_98","B2_98"], "range": [[1,0],[1,0],[8,5]]}}
     }
    },
    {
     "data": {"values": [{"t": "(c)"}]},
     "mark": {"type": "text", "fontSize": 26, "font": "Open Sans", "color": "#111"},
     "encoding": {
      "x": {"datum": 575, "type": "quantitative"},
      "y": {"datum": 1500, "type": "quantitative"},
      "text": {"field": "t"}
     }
    }
   ]
  },
  {
   "data": {"name": "pct"},
   "mark": {"type": "rule", "opacity": 0},
   "encoding": {
    "y": {"field": "p", "type": "quantitative", "scale": {"domain": [-3.48, 90.4], "nice": false, "zero": false}, "axis": {"orient": "right", "values": [20,40,60,80], "labelExpr": "datum.value + '%'", "title": null, "labelAngle": -90, "labelAlign": "center", "labelBaseline": "top", "tickSize": 7, "labelPadding": 13, "labelFontSize": 11}}
   }
  }
 ],
 "resolve": {"scale": {"y": "independent"}}
}
],
"resolve": {"scale": {"color": "independent", "strokeDash": "independent"}, "legend": {"color": "independent", "strokeDash": "independent"}},
"config": {
  "font": "Liberation Sans",
  "view": {"stroke": "#8a8a8a", "strokeWidth": 1},
  "axis": {"grid": false, "domain": false, "tickColor": "#555", "labelColor": "#222", "labelFont": "Liberation Sans", "titleFont": "Open Sans", "titleFontWeight": "normal", "titleColor": "#111", "labelOverlap": false, "labelFlush": false},
  "title": {"font": "Open Sans", "fontWeight": "normal", "fontSize": 24, "color": "#111", "offset": 3},
  "legend": {"labelFont": "Liberation Sans", "titleFont": "Liberation Sans", "titleFontWeight": "normal", "orient": "none", "legendX": 10, "legendY": 6, "symbolType": "stroke", "symbolSize": 560, "symbolStrokeWidth": 2.2, "labelFontSize": 12, "titleFontSize": 12, "titlePadding": 0, "titleAnchor": "middle", "rowPadding": -13, "labelOffset": 10, "padding": 0}
}
}
